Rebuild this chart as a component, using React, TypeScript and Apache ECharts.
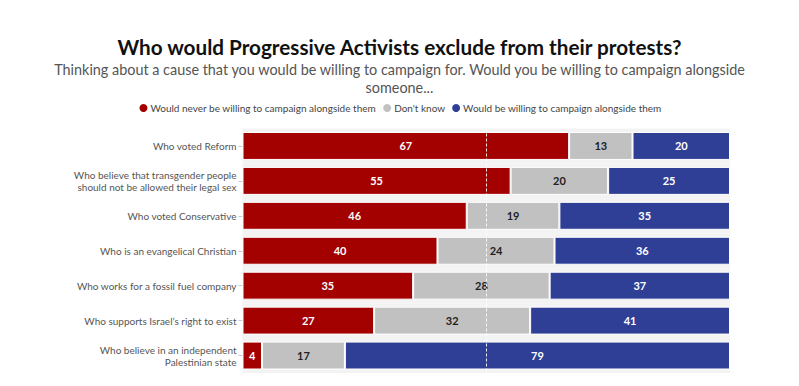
import React, { useEffect, useRef } from "react";
import * as echarts from "echarts";

const categories = [
  "Who voted Reform",
  "Who believe that transgender people\nshould not be allowed their legal sex",
  "Who voted Conservative",
  "Who is an evangelical Christian",
  "Who works for a fossil fuel company",
  "Who supports Israel’s right to exist",
  "Who believe in an independent\nPalestinian state",
];
const neverValues = [67, 55, 46, 40, 35, 27, 4];
const dontKnowValues = [13, 20, 19, 24, 28, 32, 17];
const willingValues = [20, 25, 35, 36, 37, 41, 79];

const seriesNames = [
  "Would never be willing to campaign alongside them",
  "Don't know",
  "Would be willing to campaign alongside them",
];
const titleText = "Who would Progressive Activists exclude from their protests?";
const subtitleLines = [
  "Thinking about a cause that you would be willing to campaign for. Would you be willing to campaign alongside",
  "someone...",
];
const colors = ["#a30000", "#c1c1c1", "#2f3f96"];
const FONT = "Lato, 'Open Sans', sans-serif";

export default function App() {
  const ref = useRef<HTMLDivElement>(null);
  useEffect(() => {
    if (!ref.current) return;
    const chart = echarts.init(ref.current, undefined, { renderer: "svg" });
    const mk = (i: number, data: number[], labelColor: string, extra: any = {}) => ({
      name: seriesNames[i],
      type: "bar",
      stack: "total",
      data,
      barCategoryGap: "20%",
      itemStyle: { color: colors[i], borderColor: "#ffffff", borderWidth: 1 },
      label: {
        show: true,
        position: "inside",
        color: labelColor,
        fontFamily: FONT,
        fontWeight: "bold",
        fontSize: 11,
      },
      ...extra,
    });
    chart.setOption({
      animation: false,
      backgroundColor: "#ffffff",
      textStyle: { fontFamily: FONT },
      title: [
        {
          text: titleText,
          left: "center",
          top: 31,
          textStyle: { fontFamily: FONT, fontWeight: "bold", fontSize: 20.7, color: "#111" },
        },
        ...subtitleLines.map((t, i) => ({
          text: t,
          left: "center",
          top: 57 + i * 18.5,
          textStyle: {
            fontFamily: FONT,
            fontWeight: "normal",
            fontSize: 14.4,
            color: "#555",
          },
        })),
      ],
      legend: {
        top: 97,
        left: "center",
        icon: "circle",
        itemWidth: 10,
        itemHeight: 10,
        itemGap: 5,
        textStyle: { fontFamily: FONT, fontSize: 10, color: "#444", padding: [0, 0, 0, -3] },
        data: seriesNames,
      },
      grid: { left: 242.5, right: 69, top: 128.5, bottom: 13, containLabel: false },
      xAxis: {
        type: "value",
        min: 0,
        max: 100,
        show: false,
      },
      yAxis: {
        type: "category",
        data: categories,
        inverse: true,
        axisLine: { show: false },
        axisTick: { show: true, length: 4, lineStyle: { color: "#cccccc" }, alignWithLabel: true },
        axisLabel: {
          fontFamily: FONT,
          fontSize: 10,
          color: "#555",
          lineHeight: 12,
          margin: 6,
        },
        splitArea: { show: true, areaStyle: { color: ["#f3f3f3", "#f3f3f3"] } },
      },
      series: [
        mk(0, neverValues, "#ffffff"),
        mk(1, dontKnowValues, "#222222"),
        mk(2, willingValues, "#ffffff", {
          markLine: {
            silent: true,
            symbol: "none",
            label: { show: false },
            lineStyle: { color: "#ffffff", type: [3, 2], width: 1, opacity: 0.9 },
            data: [{ xAxis: 50 }],
          },
        }),
      ],
    });
    return () => chart.dispose();
  }, []);
  return (
    <div
      ref={ref}
      style={{ position: "fixed", left: 0, top: 0, width: 799, height: 386 }}
    />
  );
}
